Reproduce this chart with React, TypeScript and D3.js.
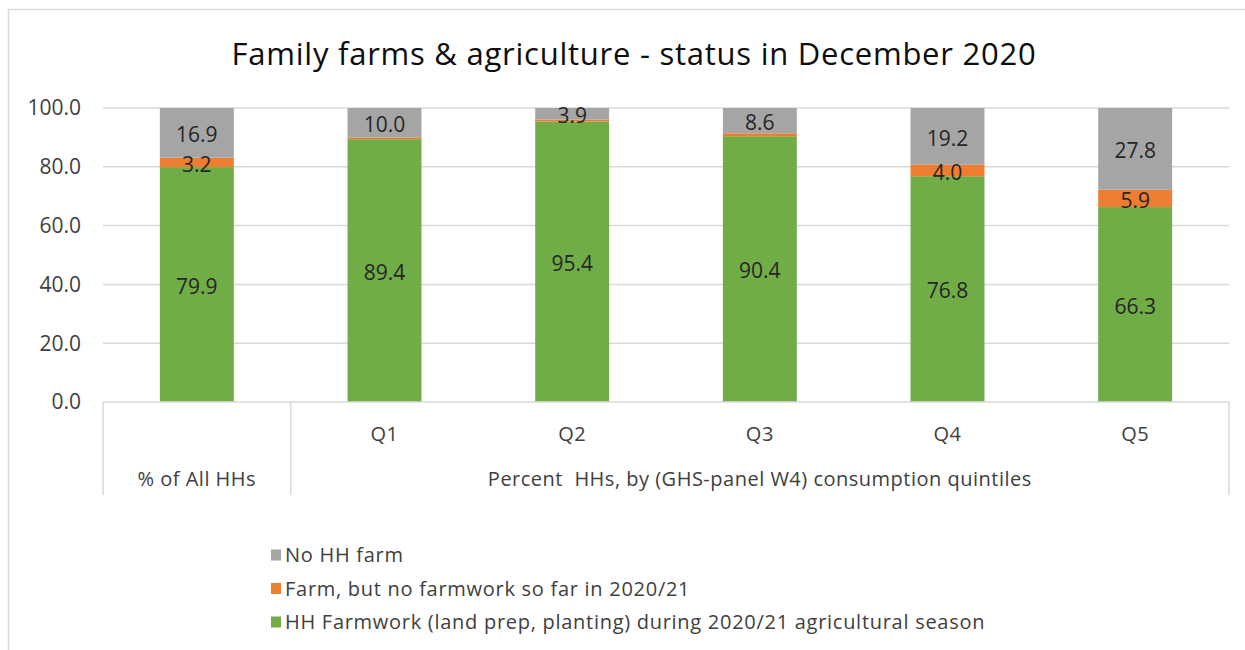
import React, { useEffect, useRef } from "react";
import * as d3 from "d3";

const categories = ["% of All HHs", "Q1", "Q2", "Q3", "Q4", "Q5"];
const farmwork = [79.9, 89.4, 95.4, 90.4, 76.8, 66.3];
const noFarmwork = [3.2, 0.6, 0.7, 1.0, 4.0, 5.9];
const noFarm = [16.9, 10.0, 3.9, 8.6, 19.2, 27.8];
const yTicks = [0, 20, 40, 60, 80, 100];

const seriesNames = [
  "HH Farmwork (land prep, planting) during 2020/21 agricultural season",
  "Farm, but no farmwork so far in 2020/21",
  "No HH farm",
];
const colors = ["#70ad47", "#ed7d31", "#a5a5a5"];
const groupLabel = "Percent  HHs, by (GHS-panel W4) consumption quintiles";

const FONT = "'Open Sans', Lato, sans-serif";

const App: React.FC = () => {
  const svgRef = useRef<SVGSVGElement>(null);

  useEffect(() => {
    if (!svgRef.current) return;
    const svg = d3.select(svgRef.current);
    svg.selectAll("*").remove();

    const left = 103;
    const right = 1229;
    const top = 108;
    const bottom = 402;

    // outer chart border (only top and left visible in the picture)
    svg
      .append("rect")
      .attr("x", 8.5)
      .attr("y", 9.5)
      .attr("width", 1260)
      .attr("height", 660)
      .attr("fill", "white")
      .attr("stroke", "#d9d9d9")
      .attr("stroke-width", 1.5);

    svg
      .append("text")
      .attr("x", 634)
      .attr("y", 65)
      .attr("text-anchor", "middle")
      .style("font-family", FONT)
      .style("font-size", "31px")
      .style("letter-spacing", "0.75px")
      .attr("fill", "#0d0d0d")
      .text("Family farms & agriculture - status in December 2020");

    const x = d3
      .scaleBand()
      .domain(categories)
      .range([left, right])
      .paddingInner(0.606)
      .paddingOuter(0.303);

    const y = d3.scaleLinear().domain([0, 100]).range([bottom, top]);

    // gridlines
    svg
      .append("g")
      .selectAll("line")
      .data(yTicks.filter((t) => t > 0))
      .enter()
      .append("line")
      .attr("x1", left)
      .attr("x2", right)
      .attr("y1", (d) => y(d))
      .attr("y2", (d) => y(d))
      .attr("stroke", "#d9d9d9")
      .attr("stroke-width", 1.5);

    // y tick labels
    svg
      .append("g")
      .selectAll("text")
      .data(yTicks)
      .enter()
      .append("text")
      .attr("x", 81)
      .attr("y", (d) => y(d))
      .attr("dy", "0.35em")
      .attr("text-anchor", "end")
      .style("font-family", FONT)
      .style("font-size", "21px")
      .attr("fill", "#404040")
      .text((d) => d3.format(".1f")(d));

    // stacked bars
    const rows = categories.map((c, i) => ({
      cat: c,
      farmwork: farmwork[i],
      noFarmwork: noFarmwork[i],
      noFarm: noFarm[i],
    }));
    const stack = d3.stack<any>().keys(["farmwork", "noFarmwork", "noFarm"]);
    const layers = stack(rows);

    layers.forEach((layer, li) => {
      const g = svg.append("g");
      g.selectAll("rect")
        .data(layer)
        .enter()
        .append("rect")
        .attr("x", (d) => x(d.data.cat) || 0)
        .attr("width", x.bandwidth())
        .attr("y", (d) => y(d[1]))
        .attr("height", (d) => y(d[0]) - y(d[1]))
        .attr("fill", colors[li]);
    });

    // data labels (orange labels only where shown in the picture)
    layers.forEach((layer, li) => {
      svg
        .append("g")
        .selectAll("text")
        .data(layer.filter((d) => li !== 1 || d[1] - d[0] >= 2))
        .enter()
        .append("text")
        .attr("x", (d) => (x(d.data.cat) || 0) + x.bandwidth() / 2)
        .attr("y", (d) => y((d[0] + d[1]) / 2) + 2)
        .attr("dy", "0.35em")
        .attr("text-anchor", "middle")
        .style("font-family", FONT)
        .style("font-size", "21px")
        .attr("fill", "#262626")
        .text((d) => d3.format(".1f")(d[1] - d[0]));
    });

    // axis line and multi-level category box
    const axis = svg.append("g").attr("stroke", "#d9d9d9").attr("stroke-width", 1.5);
    axis.append("line").attr("x1", left).attr("x2", right).attr("y1", bottom).attr("y2", bottom);
    const sep = [left, (x(categories[1]) || 0) - (x.step() * x.paddingInner()) / 2, right];
    axis
      .selectAll("line.sep")
      .data(sep)
      .enter()
      .append("line")
      .attr("class", "sep")
      .attr("x1", (d) => d)
      .attr("x2", (d) => d)
      .attr("y1", bottom)
      .attr("y2", 495);

    const catStyle = (t: d3.Selection<any, any, any, any>) =>
      t
        .attr("dy", "0.35em")
        .attr("text-anchor", "middle")
        .style("font-family", FONT)
        .style("font-size", "20px")
        .style("letter-spacing", "0.5px")
        .attr("fill", "#404040");

    svg
      .append("g")
      .selectAll("text")
      .data(categories.slice(1))
      .enter()
      .append("text")
      .attr("x", (d) => (x(d) || 0) + x.bandwidth() / 2)
      .attr("y", 434)
      .call(catStyle)
      .text((d) => d);

    svg
      .append("text")
      .attr("x", (x(categories[0]) || 0) + x.bandwidth() / 2)
      .attr("y", 479)
      .call(catStyle)
      .text(categories[0]);

    svg
      .append("text")
      .attr("x", (sep[1] + right) / 2)
      .attr("y", 479)
      .call(catStyle)
      .style("white-space", "pre")
      .text(groupLabel);

    // legend, listed top-down in reverse stack order
    const legendOrder = [2, 1, 0];
    const lg = svg.append("g");
    legendOrder.forEach((si, row) => {
      const cy = 555 + row * 33.5;
      lg.append("rect")
        .attr("x", 271)
        .attr("y", cy - 5.5)
        .attr("width", 10)
        .attr("height", 11)
        .attr("fill", colors[si]);
      lg.append("text")
        .attr("x", 285)
        .attr("y", cy)
        .attr("dy", "0.35em")
        .style("font-family", FONT)
        .style("font-size", "20px")
        .style("letter-spacing", "0.72px")
        .attr("fill", "#404040")
        .text(seriesNames[si]);
    });
  }, []);

  return (
    <svg
      ref={svgRef}
      width={1245}
      height={650}
      style={{ position: "absolute", left: 0, top: 0 }}
    ></svg>
  );
};

export default App;
